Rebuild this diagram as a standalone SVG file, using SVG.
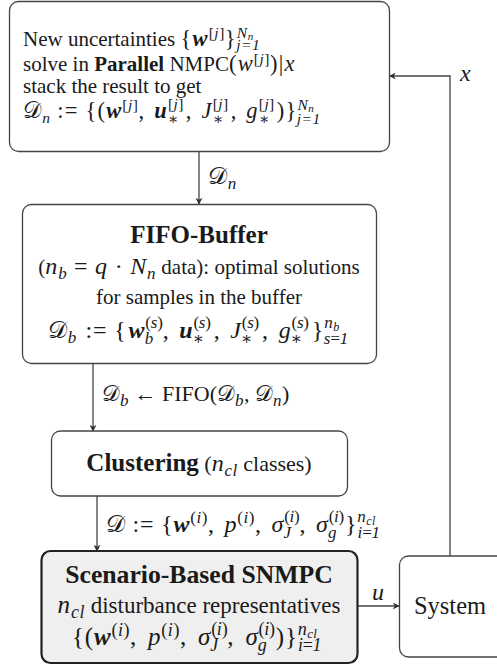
<svg xmlns="http://www.w3.org/2000/svg" width="497" height="666" viewBox="0 0 497 666">
  <defs>
    <marker id="arr" viewBox="0 0 10 10" refX="9" refY="5" markerWidth="7" markerHeight="7" markerUnits="userSpaceOnUse" orient="auto">
      <path d="M0,0 L10,5 L0,10 L3,5 Z" fill="#333"/>
    </marker>
    <style>
      .box { fill: #fff; stroke: #444; stroke-width: 1.3; }
      .main { fill: #efefef; stroke: #222; stroke-width: 2.2; }
      .edge { fill: none; stroke: #444; stroke-width: 1.3; marker-end: url(#arr); }
      text { font-family: "Liberation Serif", "DejaVu Serif", serif; fill: #1a1a1a; }
      .t21 { font-size: 21px; }
      .t22 { font-size: 22px; }
      .t23 { font-size: 23px; }
      .ttl { font-size: 25px; font-weight: bold; }
      .it { font-style: italic; }
      .bf { font-weight: bold; }
      .bi { font-weight: bold; font-style: italic; }
      .cal { font-family: "DejaVu Serif", "DejaVu Sans", "Noto Sans", serif; font-style: normal; }
      .m { font-size: 24px; letter-spacing: 0.8px; }
      .ms { font-size: 17px; letter-spacing: 0.5px; }
      .mss { font-size: 12px; }
      .k { font-size: 22.5px; letter-spacing: 1.2px; }
      .ks { font-size: 15.5px; letter-spacing: 0.5px; }
      .kss { font-size: 11px; }
      .M { font-size: 25px; letter-spacing: 0.8px; }
      .Ms { font-size: 18px; letter-spacing: 0.5px; }
      .Mss { font-size: 13px; }
    </style>
  </defs>

  <!-- connectors and their labels -->
  <g id="edges">
    <line class="edge" x1="199" y1="151" x2="199" y2="204"/>
    <line class="edge" x1="93" y1="363" x2="93" y2="431"/>
    <line class="edge" x1="97" y1="496" x2="97" y2="551"/>
    <line class="edge" x1="357" y1="606" x2="399" y2="606"/>
    <polyline class="edge" points="450,556 450,76 389.5,76"/>

    <text x="208" y="184"><tspan class="m cal">𝒟</tspan><tspan class="ms it" dy="5">n</tspan></text>

    <text x="102" y="401" style="font-size:22px"><tspan class="cal">𝒟</tspan><tspan class="ms it" dy="5">b</tspan><tspan dy="-5"> ← FIFO(</tspan><tspan class="cal">𝒟</tspan><tspan class="ms it" dy="5">b</tspan><tspan dy="-5">, </tspan><tspan class="cal">𝒟</tspan><tspan class="ms it" dy="5">n</tspan><tspan dy="-5">)</tspan></text>

    <text x="106" y="532"><tspan class="m cal">𝒟</tspan><tspan class="m"> := {</tspan><tspan class="m bi">w</tspan><tspan class="ms" dy="-9">(<tspan class="it">i</tspan>)</tspan><tspan class="m" dy="9">, </tspan><tspan class="m it" dx="3">p</tspan><tspan class="ms" dy="-9">(<tspan class="it">i</tspan>)</tspan><tspan class="m" dy="9">, </tspan><tspan class="m it" dx="3">σ</tspan><tspan class="ms" dy="-10" textLength="16">(<tspan class="it">i</tspan>)</tspan><tspan class="ms it" dx="-16" dy="16" textLength="8">J</tspan><tspan class="m" dx="8" dy="-6">, </tspan><tspan class="m it" dx="3">σ</tspan><tspan class="ms" dy="-10" textLength="16">(<tspan class="it">i</tspan>)</tspan><tspan class="ms it" dx="-16" dy="16" textLength="8">g</tspan><tspan class="m" dx="8" dy="-6">}</tspan><tspan class="ms it" dy="-10" textLength="9">n</tspan><tspan class="mss it" dy="2.5" textLength="9">cl</tspan><tspan class="ms it" dx="-18" dy="13.5" textLength="23">i=1</tspan></text>

    <text class="m it" x="372" y="600">u</text>
    <text class="m it" x="460" y="81">x</text>
  </g>

  <!-- parallel NMPC sampling -->
  <g id="sampling">
    <rect class="box" x="9.5" y="1.5" width="380" height="150" rx="9"/>
    <text class="t21" x="23" y="46">New uncertainties <tspan class="k">{</tspan><tspan class="k bi">w</tspan><tspan class="ks" dy="-8">[<tspan class="it">j</tspan>]</tspan><tspan class="k" dy="8">}</tspan><tspan class="ks it" dy="-8.5" textLength="11">N</tspan><tspan class="kss it" dy="2.5" textLength="6">n</tspan><tspan class="ks it" dx="-17" dy="10" textLength="24">j=1</tspan></text>
    <text class="t21" x="23" y="71">solve in <tspan class="bf">Parallel</tspan> NMPC<tspan class="k">(</tspan><tspan class="k it">w</tspan><tspan class="ks" dy="-7">[<tspan class="it">j</tspan>]</tspan><tspan class="k" dy="7">)|</tspan><tspan class="k it">x</tspan></text>
    <text class="t21" x="23" y="93">stack the result to get</text>
    <text x="23" y="118"><tspan class="k cal">𝒟</tspan><tspan class="ks it" dy="4.5">n</tspan><tspan class="k" dy="-4.5"> := {(</tspan><tspan class="k bi">w</tspan><tspan class="ks" dy="-8">[<tspan class="it">j</tspan>]</tspan><tspan class="k" dy="8">, </tspan><tspan class="k bi" dx="2">u</tspan><tspan class="ks" dy="-9" textLength="16">[<tspan class="it">j</tspan>]</tspan><tspan class="ks" dx="-16" dy="14.5" textLength="9">∗</tspan><tspan class="k" dx="7" dy="-5.5">, </tspan><tspan class="k it" dx="2">J</tspan><tspan class="ks" dy="-9" textLength="16">[<tspan class="it">j</tspan>]</tspan><tspan class="ks" dx="-16" dy="14.5" textLength="9">∗</tspan><tspan class="k" dx="7" dy="-5.5">, </tspan><tspan class="k it" dx="2">g</tspan><tspan class="ks" dy="-9" textLength="16">[<tspan class="it">j</tspan>]</tspan><tspan class="ks" dx="-16" dy="14.5" textLength="9">∗</tspan><tspan class="k" dx="7" dy="-5.5">)}</tspan><tspan class="ks it" dy="-8.5" textLength="11">N</tspan><tspan class="kss it" dy="2.5" textLength="6">n</tspan><tspan class="ks it" dx="-17" dy="11.5" textLength="24">j=1</tspan></text>
  </g>

  <!-- FIFO buffer -->
  <g id="fifo">
    <rect class="box" x="22.5" y="204.5" width="354" height="159" rx="9"/>
    <text class="ttl" x="199" y="243" text-anchor="middle">FIFO-Buffer</text>
    <text class="t21" x="199" y="274" text-anchor="middle">(<tspan class="m it">n</tspan><tspan class="ms it" dy="5">b</tspan><tspan class="m" dy="-5"> = </tspan><tspan class="m it">q</tspan><tspan class="m"> · </tspan><tspan class="m it">N</tspan><tspan class="ms it" dy="5">n</tspan><tspan dy="-5"> data): optimal solutions</tspan></text>
    <text class="t21" x="199" y="304" text-anchor="middle">for samples in the buffer</text>
    <text x="48" y="338"><tspan class="m cal">𝒟</tspan><tspan class="ms it" dy="5">b</tspan><tspan class="m" dy="-5" dx="2"> := {</tspan><tspan class="m bi" dx="2">w</tspan><tspan class="ms" dy="-10" textLength="18">(<tspan class="it">s</tspan>)</tspan><tspan class="ms it" dx="-18" dy="16" textLength="9">b</tspan><tspan class="m" dx="9" dy="-6">, </tspan><tspan class="m bi" dx="3">u</tspan><tspan class="ms" dy="-10" textLength="18">(<tspan class="it">s</tspan>)</tspan><tspan class="ms" dx="-18" dy="16" textLength="9">∗</tspan><tspan class="m" dx="9" dy="-6">, </tspan><tspan class="m it" dx="3">J</tspan><tspan class="ms" dy="-10" textLength="18">(<tspan class="it">s</tspan>)</tspan><tspan class="ms" dx="-18" dy="16" textLength="9">∗</tspan><tspan class="m" dx="9" dy="-6">, </tspan><tspan class="m it" dx="3">g</tspan><tspan class="ms" dy="-10" textLength="18">(<tspan class="it">s</tspan>)</tspan><tspan class="ms" dx="-18" dy="16" textLength="9">∗</tspan><tspan class="m" dx="9" dy="-6">}</tspan><tspan class="ms it" dy="-10" textLength="9">n</tspan><tspan class="mss it" dy="2.5" textLength="6.5">b</tspan><tspan class="ms it" dx="-15.5" dy="13.5" textLength="25">s=1</tspan></text>
  </g>

  <!-- clustering -->
  <g id="clustering">
    <rect class="box" x="51.5" y="431" width="296" height="65" rx="9"/>
    <text x="199" y="471" text-anchor="middle"><tspan class="ttl">Clustering</tspan><tspan class="t22"> (</tspan><tspan class="m it">n</tspan><tspan class="ms it" dy="5">cl</tspan><tspan class="t22" dy="-5"> classes)</tspan></text>
  </g>

  <!-- scenario-based SNMPC -->
  <g id="snmpc">
    <rect class="main" x="41.5" y="551" width="316" height="112" rx="9"/>
    <text class="ttl" x="199" y="583" text-anchor="middle" style="font-size:25.7px">Scenario-Based SNMPC</text>
    <text class="t23" x="199" y="613" text-anchor="middle"><tspan class="M it">n</tspan><tspan class="Ms it" dy="5">cl</tspan><tspan dy="-5"> disturbance representatives</tspan></text>
    <text x="72" y="645"><tspan class="M">{(</tspan><tspan class="M bi">w</tspan><tspan class="Ms" dy="-9">(<tspan class="it">i</tspan>)</tspan><tspan class="M" dy="9">, </tspan><tspan class="M it" dx="4">p</tspan><tspan class="Ms" dy="-9">(<tspan class="it">i</tspan>)</tspan><tspan class="M" dy="9">, </tspan><tspan class="M it" dx="4">σ</tspan><tspan class="Ms" dy="-10" textLength="17">(<tspan class="it">i</tspan>)</tspan><tspan class="Ms it" dx="-17" dy="16" textLength="8.5">J</tspan><tspan class="M" dx="8.5" dy="-6">, </tspan><tspan class="M it" dx="4">σ</tspan><tspan class="Ms" dy="-10" textLength="17">(<tspan class="it">i</tspan>)</tspan><tspan class="Ms it" dx="-17" dy="16" textLength="8.5">g</tspan><tspan class="M" dx="8.5" dy="-6">)}</tspan><tspan class="Ms it" dy="-10" textLength="9.5">n</tspan><tspan class="Mss it" dy="2.5" textLength="9.5">cl</tspan><tspan class="Ms it" dx="-19" dy="13.5" textLength="24">i=1</tspan></text>
  </g>

  <!-- plant -->
  <g id="system">
    <rect class="box" x="399.5" y="556" width="110" height="101" rx="9"/>
    <text x="450" y="614" text-anchor="middle" style="font-size:24.5px">System</text>
  </g>
</svg>
